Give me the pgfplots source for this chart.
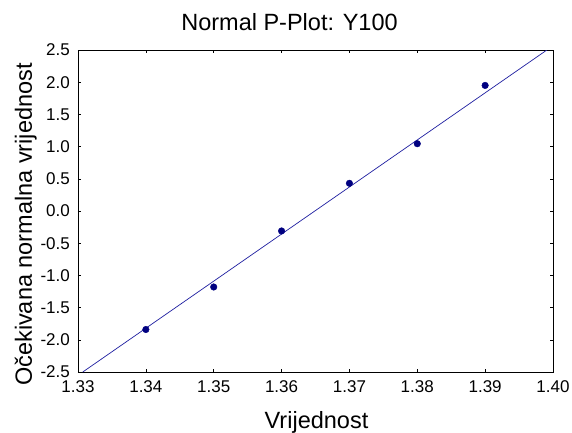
\documentclass[border=0pt]{standalone}
\usepackage{pgfplots}
\pgfplotsset{compat=1.18}
\usepackage{fontspec}
\setmainfont{Liberation Sans}
\definecolor{ptcol}{RGB}{0,0,128}
\definecolor{lncol}{RGB}{30,30,160}
\begin{document}
\begin{tikzpicture}
\path[use as bounding box] (-78pt,-60pt) rectangle (494pt,372pt);
\begin{axis}[
  at={(0pt,0pt)}, anchor=south west,
  scale only axis, width=475pt, height=322pt,
  xmin=1.33, xmax=1.40, ymin=-2.5, ymax=2.5,
  xtick={1.33,1.34,1.35,1.36,1.37,1.38,1.39,1.40},
  ytick={-2.5,-2.0,-1.5,-1.0,-0.5,0,0.5,1.0,1.5,2.0,2.5},
  /pgf/number format/assume math mode=true,
  xticklabel style={/pgf/number format/fixed, /pgf/number format/fixed zerofill, /pgf/number format/precision=2, anchor=base, inner sep=0pt, yshift=-20pt},
  yticklabel style={/pgf/number format/fixed, /pgf/number format/fixed zerofill, /pgf/number format/precision=1, anchor=east, inner sep=0pt, xshift=-8pt},
  tick label style={font=\fontsize{17}{20}\selectfont},
  tick align=inside, major tick length=3pt,
  tick style={black, line width=0.6pt},
  axis line style={black, line width=0.8pt},
  clip=true,
]
\addplot[no markers, color=lncol, line width=0.7pt] coordinates {(1.3307,-2.5) (1.3991,2.5)};
\addplot[only marks, mark=*, mark size=3.3pt, color=ptcol] coordinates {
(1.34,-1.84) (1.35,-1.18) (1.36,-0.31) (1.37,0.43) (1.38,1.045) (1.39,1.95)};
\end{axis}
\node[anchor=base, font=\fontsize{23.5}{28}\selectfont, inner sep=0pt] at (211.5pt,341pt) {Normal P-Plot: Y100};
\node[anchor=base, font=\fontsize{23.5}{28}\selectfont, inner sep=0pt] at (238.5pt,-56pt) {Vrijednost};
\node[anchor=base, rotate=90, font=\fontsize{23.5}{28}\selectfont, inner sep=0pt] at (-46pt,147.5pt) {Očekivana normalna vrijednost};
\end{tikzpicture}
\end{document}
